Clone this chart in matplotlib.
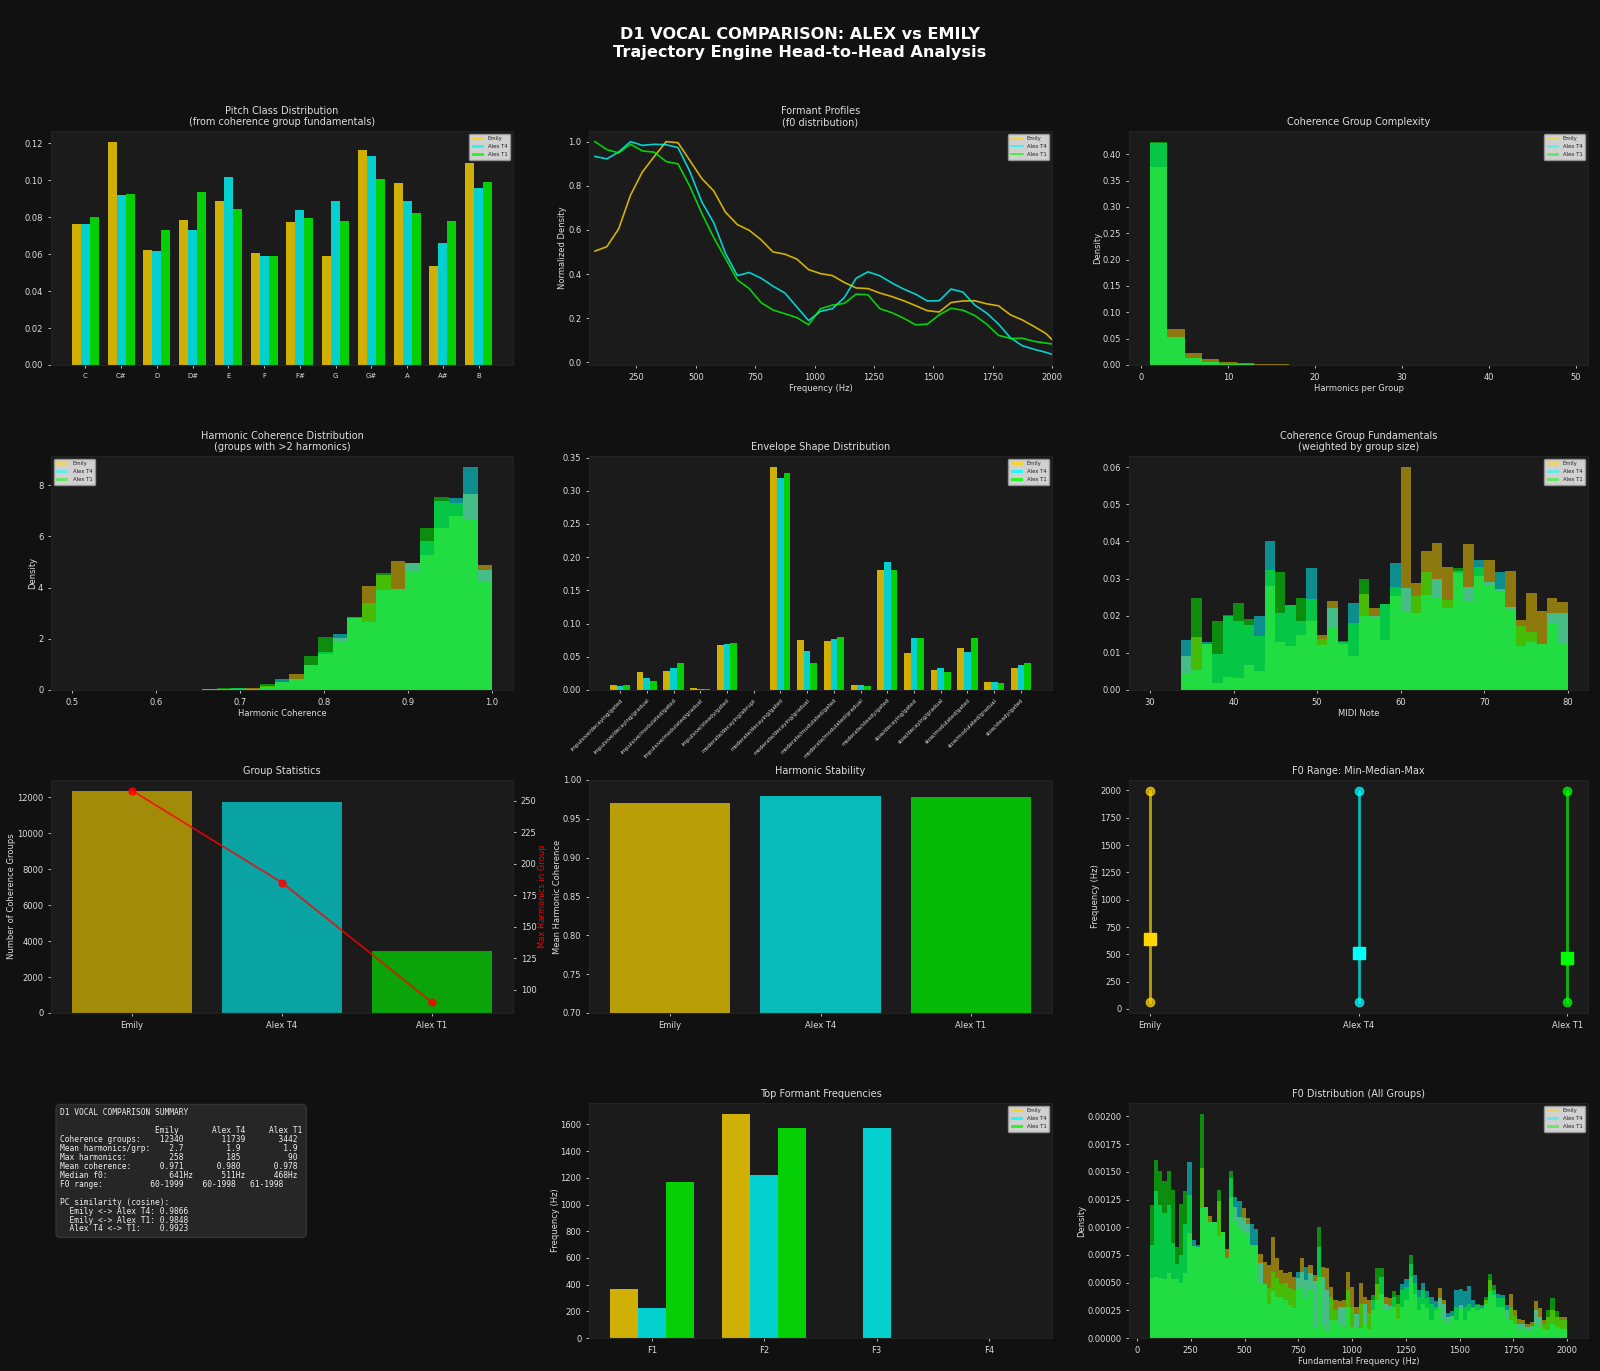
import numpy as np
import matplotlib
matplotlib.use('Agg')
import matplotlib.pyplot as plt

# colours / style
FIG_BG = '#111111'
AX_BG = '#1b1b1b'
TXT = '#dddddd'

speakers = ['Emily', 'Alex T4', 'Alex T1']
colors = ['#FFD700', '#00FFFF', '#00FF00']

# pitch class distribution
pitch_classes = ['C', 'C#', 'D', 'D#', 'E', 'F', 'F#', 'G', 'G#', 'A', 'A#', 'B']
pc_emily = [0.0761, 0.1205, 0.0622, 0.0786, 0.0889, 0.0606, 0.0775, 0.0588, 0.1160, 0.0984, 0.0538, 0.1090]
pc_t4 = [0.0765, 0.0919, 0.0619, 0.0732, 0.1016, 0.0592, 0.0840, 0.0889, 0.1128, 0.0889, 0.0658, 0.0959]
pc_t1 = [0.0802, 0.0927, 0.0729, 0.0937, 0.0846, 0.0588, 0.0797, 0.0781, 0.1006, 0.0820, 0.0777, 0.0991]

# formant profiles (normalized f0 density)
fp_freqs = list(range(75, 2000, 50)) + [2000]
fp_emily = [0.504, 0.524, 0.605, 0.758, 0.863, 0.933, 1.0, 0.995, 0.914, 0.833, 0.777, 0.68, 0.624, 0.598,
            0.555, 0.50, 0.49, 0.468, 0.42, 0.402, 0.393, 0.362, 0.337, 0.334, 0.314, 0.298, 0.279, 0.257,
            0.234, 0.228, 0.271, 0.278, 0.279, 0.265, 0.256, 0.215, 0.192, 0.162, 0.13, 0.103]
fp_t4 = [0.933, 0.922, 0.953, 1.0, 0.983, 0.988, 0.986, 0.973, 0.864, 0.727, 0.633, 0.493, 0.393, 0.407,
         0.381, 0.345, 0.314, 0.251, 0.189, 0.231, 0.243, 0.293, 0.381, 0.41, 0.392, 0.36, 0.332, 0.309,
         0.278, 0.279, 0.332, 0.318, 0.259, 0.223, 0.173, 0.111, 0.075, 0.059, 0.045, 0.036]
fp_t1 = [1.0, 0.964, 0.949, 0.988, 0.958, 0.952, 0.91, 0.899, 0.797, 0.675, 0.566, 0.47, 0.373, 0.334,
         0.27, 0.237, 0.22, 0.203, 0.17, 0.243, 0.259, 0.267, 0.309, 0.306, 0.243, 0.225, 0.2, 0.17,
         0.173, 0.215, 0.245, 0.236, 0.212, 0.173, 0.122, 0.108, 0.109, 0.095, 0.087, 0.083]

# coherence group complexity (density, bins of 2 harmonics from 1 to 49)
cx_edges = list(range(1, 50, 2))
cx_emily = [0.375, 0.069, 0.022, 0.0107, 0.0057, 0.003, 0.0015, 0.001, 0.0007, 0.0005, 0.0003, 0.0002,
            0.0001, 0, 0, 0, 0, 0, 0, 0, 0, 0, 0, 0]
cx_t4 = [0.421, 0.053, 0.014, 0.005, 0.0025, 0.0013, 0.0006, 0.0003, 0.0002, 0.0001, 0, 0,
         0, 0, 0, 0, 0, 0, 0, 0, 0, 0, 0, 0]
cx_t1 = [0.423, 0.052, 0.013, 0.005, 0.0025, 0.0012, 0.0006, 0.0003, 0.0002, 0.0001, 0, 0,
         0, 0, 0, 0, 0, 0, 0, 0, 0, 0, 0, 0]

# harmonic coherence (density, 29 bins 0.5..1.0)
hc_emily = [0, 0, 0, 0, 0, 0, 0, 0, 0, 0.02, 0.03, 0.05, 0.06, 0.16, 0.32, 0.61, 0.96, 1.40, 2.05, 2.87,
            4.06, 4.49, 5.05, 4.95, 5.27, 6.35, 6.80, 7.66, 4.88]
hc_t4 = [0, 0, 0, 0, 0, 0, 0, 0, 0, 0.02, 0.03, 0.08, 0.05, 0.10, 0.42, 0.43, 0.96, 1.50, 2.20, 2.80,
         2.65, 3.91, 3.95, 4.96, 5.83, 7.38, 7.49, 8.71, 4.69]
hc_t1 = [0, 0, 0, 0, 0, 0, 0, 0, 0, 0.02, 0.09, 0.09, 0.05, 0.22, 0.30, 0.43, 1.32, 2.08, 1.87, 2.80,
         3.39, 4.57, 3.92, 4.60, 6.34, 7.55, 7.30, 6.68, 4.27]

# envelope shapes
env_labels = ['impulsive/decaying/gated', 'impulsive/decaying/gradual', 'impulsive/modulated/gated',
              'impulsive/modulated/gradual', 'impulsive/steady/gated', 'moderate/decaying/abrupt',
              'moderate/decaying/gated', 'moderate/decaying/gradual', 'moderate/modulated/gated',
              'moderate/modulated/gradual', 'moderate/steady/gated', 'slow/decaying/gated',
              'slow/decaying/gradual', 'slow/modulated/gated', 'slow/modulated/gradual', 'slow/steady/gated']
env_emily = [0.0075, 0.0265, 0.0285, 0.003, 0.0684, 0, 0.3355, 0.0754, 0.0734, 0.007, 0.181, 0.056,
             0.030, 0.0634, 0.0125, 0.0335]
env_t4 = [0.006, 0.018, 0.0325, 0.0015, 0.0694, 0, 0.3185, 0.0594, 0.0774, 0.007, 0.193, 0.078,
          0.0325, 0.0574, 0.0115, 0.0374]
env_t1 = [0.007, 0.013, 0.0404, 0.0015, 0.0704, 0, 0.326, 0.040, 0.0794, 0.006, 0.180, 0.079,
          0.0265, 0.079, 0.010, 0.0404]

# coherence group fundamentals (MIDI, weighted density, 37 bins 33.7..80)
midi_emily = [0.0091, 0.0143, 0.0123, 0.0020, 0.0036, 0.0031, 0.0067, 0.0052, 0.0279, 0.0128, 0.0119,
              0.0149, 0.0185, 0.0149, 0.0239, 0.0125, 0.0092, 0.0258, 0.0221, 0.0134, 0.0252, 0.0600,
              0.0288, 0.0375, 0.0395, 0.0331, 0.0316, 0.0394, 0.0307, 0.0351, 0.0273, 0.0320, 0.0188,
              0.0262, 0.0212, 0.0247, 0.0237]
midi_t4 = [0.0134, 0.0055, 0.0128, 0.0098, 0.0199, 0.0185, 0.0176, 0.0199, 0.0400, 0.0206, 0.0230,
           0.0185, 0.0329, 0.0121, 0.0221, 0.0128, 0.0234, 0.0199, 0.0199, 0.0232, 0.0342, 0.0275,
           0.0208, 0.0255, 0.0300, 0.0222, 0.0320, 0.0277, 0.0349, 0.0290, 0.0319, 0.0223, 0.0119,
           0.0130, 0.0123, 0.0207, 0.0208]
midi_t1 = [0.0045, 0.0249, 0.0123, 0.0185, 0.0201, 0.0235, 0.0190, 0.0146, 0.0323, 0.0319, 0.0230,
           0.0248, 0.0244, 0.0137, 0.0167, 0.0131, 0.0180, 0.0298, 0.0194, 0.0232, 0.0277, 0.0212,
           0.0252, 0.0319, 0.0250, 0.0241, 0.0328, 0.0237, 0.0331, 0.0280, 0.0264, 0.0219, 0.0173,
           0.0156, 0.0123, 0.0181, 0.0127]

# group statistics
n_groups = [12340, 11739, 3442]
max_harmonics = [258, 185, 90]
mean_coherence = [0.971, 0.980, 0.978]
f0_min = [60, 60, 61]
f0_median = [641, 511, 468]
f0_max = [1999, 1998, 1998]

# top formant frequencies
formant_names = ['F1', 'F2', 'F3', 'F4']
tf_emily = [367, 1677, 0, 0]
tf_t4 = [222, 1225, 1577, 0]
tf_t1 = [1171, 1577, 0, 0]

# f0 distribution (density, 100 bins 60..2000 Hz)
f0_emily = [0.00054, 0.00055, 0.00054, 0.00053, 0.00059, 0.00053, 0.00053, 0.0005, 0.00059, 0.00095,
            0.00083, 0.00082, 0.00153, 0.00118, 0.0011, 0.00105, 0.00124, 0.00096, 0.0008, 0.00127,
            0.00118, 0.00109, 0.00117, 0.00108, 0.00084, 0.00084, 0.00076, 0.00069, 0.00066, 0.00091,
            0.00072, 0.00061, 0.00059, 0.0006, 0.00055, 0.00054, 0.00072, 0.00052, 0.00066, 0.00057,
            0.00055, 0.00064, 0.00063, 0.00046, 0.00034, 0.00033, 0.00034, 0.0006, 0.00046, 0.00028,
            0.0005, 0.00037, 0.00034, 0.00025, 0.00049, 0.0004, 0.00037, 0.00036, 0.00028, 0.00031,
            0.00028, 0.00034, 0.00055, 0.0004, 0.00025, 0.00031, 0.00027, 0.00016, 0.00025, 0.00045,
            0.00034, 0.00019, 0.0002, 0.00016, 0.0003, 0.00016, 0.00024, 0.00027, 0.00025, 0.00026,
            0.00034, 0.00052, 0.00039, 0.00028, 0.00028, 0.00025, 0.0004, 0.00025, 0.00017, 0.00016,
            0.00013, 0.00014, 0.00033, 0.00027, 0.00016, 0.00019, 0.00025, 0.00019, 0.00019, 0.00019]
f0_t4 = [0.00084, 0.00133, 0.0012, 0.00113, 0.0012, 0.00086, 0.00067, 0.00075, 0.00103, 0.00159,
         0.00088, 0.00084, 0.00117, 0.00118, 0.00105, 0.00105, 0.00092, 0.00096, 0.00072, 0.00144,
         0.00127, 0.00124, 0.00108, 0.00103, 0.00103, 0.00098, 0.00068, 0.00049, 0.00031, 0.00042,
         0.00037, 0.00037, 0.00034, 0.0003, 0.00027, 0.0006, 0.0006, 0.00064, 0.00059, 0.00051,
         0.00082, 0.00055, 0.00043, 0.00016, 0.00016, 0.00028, 0.00028, 0.00028, 0.0001, 0.00022,
         0.00009, 0.00031, 0.00008, 0.00034, 0.00034, 0.00055, 0.00031, 0.00029, 0.00037, 0.00017,
         0.00049, 0.00053, 0.00067, 0.00057, 0.00043, 0.0005, 0.00042, 0.00037, 0.00033, 0.00036,
         0.00031, 0.00023, 0.00024, 0.00043, 0.00044, 0.00042, 0.00047, 0.00034, 0.0003, 0.0003,
         0.00031, 0.00042, 0.00043, 0.0004, 0.00039, 0.0003, 0.00016, 0.00013, 0.00013, 0.00013,
         0.0001, 0.00011, 0.00025, 0.00019, 0.00008, 0.00007, 0.00013, 0.0001, 0.00008, 0.00008]
f0_t1 = [0.0012, 0.00161, 0.00151, 0.00142, 0.00151, 0.00134, 0.00082, 0.00121, 0.00133, 0.00129,
         0.00083, 0.00082, 0.00202, 0.00118, 0.00105, 0.00105, 0.00134, 0.00096, 0.00072, 0.00151,
         0.00106, 0.001, 0.00097, 0.00094, 0.00084, 0.00084, 0.00049, 0.00049, 0.00045, 0.0006,
         0.00054, 0.00049, 0.0005, 0.00045, 0.00043, 0.00043, 0.00046, 0.00037, 0.00043, 0.0001,
         0.001, 0.00011, 0.00005, 0.00037, 0.00025, 0.00013, 0.0001, 0.00043, 0.00028, 0.0001,
         0.00031, 0.00013, 0.00023, 0.00039, 0.00063, 0.00063, 0.00025, 0.00025, 0.00042, 0.00039,
         0.00043, 0.00046, 0.00075, 0.0005, 0.00037, 0.00043, 0.00036, 0.00031, 0.00028, 0.00028,
         0.00016, 0.00013, 0.00018, 0.00028, 0.00025, 0.00028, 0.00031, 0.00028, 0.00031, 0.00028,
         0.00037, 0.00058, 0.00048, 0.00036, 0.00036, 0.00016, 0.00028, 0.0002, 0.00008, 0.0001,
         0.00005, 0.00008, 0.00013, 0.0001, 0.00013, 0.00025, 0.00036, 0.00024, 0.00016, 0.00016]

summary_text = (
    "D1 VOCAL COMPARISON SUMMARY\n"
    "\n"
    "                    Emily       Alex T4     Alex T1\n"
    "Coherence groups:    12340        11739       3442\n"
    "Mean harmonics/grp:    2.7         1.9         1.9\n"
    "Max harmonics:         258         185          90\n"
    "Mean coherence:      0.971       0.980       0.978\n"
    "Median f0:             641Hz      511Hz      468Hz\n"
    "F0 range:          60-1999    60-1998   61-1998\n"
    "\n"
    "PC similarity (cosine):\n"
    "  Emily <-> Alex T4: 0.9866\n"
    "  Emily <-> Alex T1: 0.9848\n"
    "  Alex T4 <-> T1:    0.9923"
)

W, H = 1600, 1371


def rect(left, right, top, bottom):
    return [left / W, 1 - bottom / H, (right - left) / W, (bottom - top) / H]


def style_ax(ax, title=None):
    ax.set_facecolor(AX_BG)
    ax.tick_params(colors=TXT, labelsize=6, length=2, width=0.6)
    for s in ax.spines.values():
        s.set_color('#222222')
    if title:
        ax.set_title(title, color=TXT, fontsize=7, pad=4)


def add_legend(ax, loc='upper right'):
    leg = ax.legend(loc=loc, fontsize=3.9, facecolor='#e6e6e6', edgecolor='#999999',
                    framealpha=0.9, handlelength=2.2, borderpad=0.5, labelspacing=0.55)
    for t in leg.get_texts():
        t.set_color('#222222')


def set_labels(ax, xlabel=None, ylabel=None):
    if xlabel:
        ax.set_xlabel(xlabel, color=TXT, fontsize=6, labelpad=2)
    if ylabel:
        ax.set_ylabel(ylabel, color=TXT, fontsize=6, labelpad=0.5)


fig = plt.figure(figsize=(16, 13.71), dpi=100, facecolor=FIG_BG)
fig.suptitle('D1 VOCAL COMPARISON: ALEX vs EMILY\nTrajectory Engine Head-to-Head Analysis',
             color='white', fontsize=11.6, fontweight='bold', y=0.980)

C1 = (51, 513)
C2 = (589, 1052)
C3 = (1129, 1588)
R1 = (131, 365)
R2 = (456, 690)
R3 = (780, 1013)
R4 = (1103, 1338)

# --- Pitch class distribution
ax = fig.add_axes(rect(*C1, *R1))
style_ax(ax, 'Pitch Class Distribution\n(from coherence group fundamentals)')
x = np.arange(len(pitch_classes))
for i, (vals, c, name) in enumerate(zip([pc_emily, pc_t4, pc_t1], colors, speakers)):
    ax.bar(x + (i - 1) * 0.25, vals, 0.25, color=c, alpha=0.8, label=name)
ax.set_xticks(x)
ax.set_xticklabels(pitch_classes, fontsize=5)
add_legend(ax)

# --- Formant profiles
ax = fig.add_axes(rect(*C2, *R1))
style_ax(ax, 'Formant Profiles\n(f0 distribution)')
for vals, c, name in zip([fp_emily, fp_t4, fp_t1], colors, speakers):
    ax.plot(fp_freqs, vals, color=c, lw=1.2, alpha=0.8, label=name)
ax.set_xlim(50, 2000)
set_labels(ax, 'Frequency (Hz)', 'Normalized Density')
add_legend(ax)

# --- Coherence group complexity
ax = fig.add_axes(rect(*C3, *R1))
style_ax(ax, 'Coherence Group Complexity')
for vals, c, name in zip([cx_emily, cx_t4, cx_t1], colors, speakers):
    ax.hist(cx_edges[:-1], bins=cx_edges, weights=vals, histtype='stepfilled',
            color=c, alpha=0.5, label=name)
set_labels(ax, 'Harmonics per Group', 'Density')
add_legend(ax)

# --- Harmonic coherence distribution
ax = fig.add_axes(rect(*C1, *R2))
style_ax(ax, 'Harmonic Coherence Distribution\n(groups with >2 harmonics)')
hc_edges = np.linspace(0.5, 1.0, len(hc_emily) + 1)
for vals, c, name in zip([hc_emily, hc_t4, hc_t1], colors, speakers):
    ax.hist(hc_edges[:-1], bins=hc_edges, weights=vals, histtype='stepfilled',
            color=c, alpha=0.5, label=name)
set_labels(ax, 'Harmonic Coherence', 'Density')
add_legend(ax, 'upper left')

# --- Envelope shape distribution
ax = fig.add_axes(rect(*C2, *R2))
style_ax(ax, 'Envelope Shape Distribution')
x = np.arange(len(env_labels))
for i, (vals, c, name) in enumerate(zip([env_emily, env_t4, env_t1], colors, speakers)):
    ax.bar(x + (i - 1) * 0.25, vals, 0.25, color=c, alpha=0.8, label=name)
ax.set_xticks(x)
ax.set_xticklabels(env_labels, rotation=45, ha='right', fontsize=4, rotation_mode='anchor')
add_legend(ax)

# --- Coherence group fundamentals (MIDI)
ax = fig.add_axes(rect(*C3, *R2))
style_ax(ax, 'Coherence Group Fundamentals\n(weighted by group size)')
midi_edges = np.linspace(33.7, 80, len(midi_emily) + 1)
for vals, c, name in zip([midi_emily, midi_t4, midi_t1], colors, speakers):
    ax.hist(midi_edges[:-1], bins=midi_edges, weights=vals, histtype='stepfilled',
            color=c, alpha=0.5, label=name)
ax.set_xlim(27.5, 82.4)
set_labels(ax, 'MIDI Note')
add_legend(ax)

# --- Group statistics
ax = fig.add_axes(rect(*C1, *R3))
style_ax(ax, 'Group Statistics')
ax.bar(speakers, n_groups, color=colors, alpha=0.6)
set_labels(ax, ylabel='Number of Coherence Groups')
ax2 = ax.twinx()
ax2.plot(speakers, max_harmonics, 'o-', color='red', lw=1.3, ms=5, alpha=0.8)
ax2.tick_params(colors=TXT, labelsize=6, length=2, width=0.6)
for s in ax2.spines.values():
    s.set_color('#222222')
ax2.set_ylabel('Max Harmonics in Group', color='red', fontsize=6, labelpad=1)

# --- Harmonic stability
ax = fig.add_axes(rect(*C2, *R3))
style_ax(ax, 'Harmonic Stability')
ax.bar(speakers, mean_coherence, color=colors, alpha=0.7)
ax.set_ylim(0.7, 1.0)
set_labels(ax, ylabel='Mean Harmonic Coherence')

# --- F0 range
ax = fig.add_axes(rect(*C3, *R3))
style_ax(ax, 'F0 Range: Min-Median-Max')
for i, c in enumerate(colors):
    ax.plot([i, i], [f0_min[i], f0_max[i]], color=c, lw=2, alpha=0.7)
    ax.plot([i, i], [f0_min[i], f0_max[i]], 'o', color=c, ms=6, alpha=0.7)
    ax.plot(i, f0_median[i], 's', color=c, ms=9)
ax.set_xticks(range(3))
ax.set_xticklabels(speakers)
set_labels(ax, ylabel='Frequency (Hz)')

# --- Summary text
ax = fig.add_axes(rect(*C1, *R4))
ax.axis('off')
ax.text(0.0195, 0.977, summary_text, transform=ax.transAxes, va='top', ha='left',
        family='DejaVu Sans Mono', fontsize=5.7, color='#eeeeee', linespacing=0.99,
        bbox=dict(boxstyle='round,pad=0.5', facecolor='#262626', edgecolor='#333333'))

# --- Top formant frequencies
ax = fig.add_axes(rect(*C2, *R4))
style_ax(ax, 'Top Formant Frequencies')
x = np.arange(len(formant_names))
for i, (vals, c, name) in enumerate(zip([tf_emily, tf_t4, tf_t1], colors, speakers)):
    ax.bar(x + (i - 1) * 0.25, vals, 0.25, color=c, alpha=0.8, label=name)
ax.set_xticks(x)
ax.set_xticklabels(formant_names)
set_labels(ax, ylabel='Frequency (Hz)')
add_legend(ax)

# --- F0 distribution
ax = fig.add_axes(rect(*C3, *R4))
style_ax(ax, 'F0 Distribution (All Groups)')
f0_edges = np.linspace(60, 2000, len(f0_emily) + 1)
for vals, c, name in zip([f0_emily, f0_t4, f0_t1], colors, speakers):
    ax.hist(f0_edges[:-1], bins=f0_edges, weights=vals, histtype='stepfilled',
            color=c, alpha=0.5, label=name)
set_labels(ax, 'Fundamental Frequency (Hz)', 'Density')
add_legend(ax)

fig.savefig('out.png', dpi=100, facecolor=FIG_BG)
